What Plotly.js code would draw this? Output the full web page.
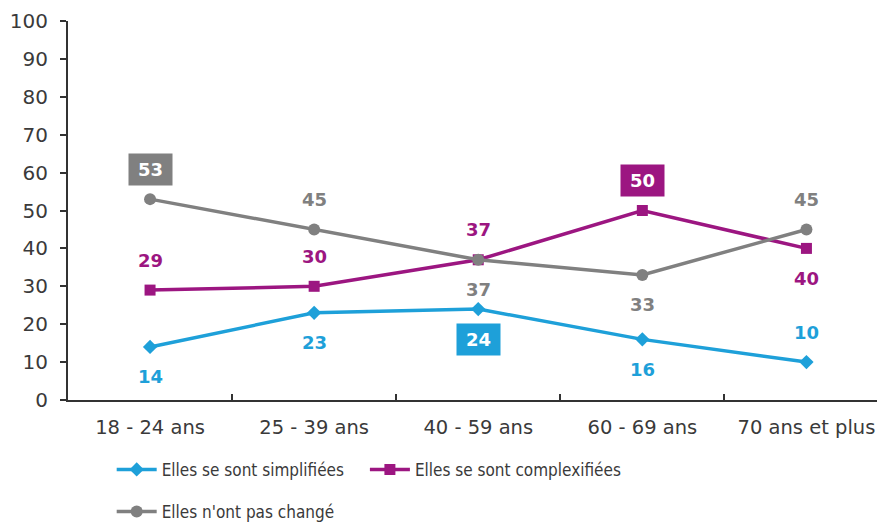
<!DOCTYPE html>
<html><head><meta charset="utf-8">
<script src="https://cdn.plot.ly/plotly-3.0.1.min.js"></script>
<style>body{margin:0;background:#fff}#chart{width:877px;height:526px}</style>
</head><body><div id="chart"></div>
<script>
const categories = ["18 - 24 ans", "25 - 39 ans", "40 - 59 ans", "60 - 69 ans", "70 ans et plus"];
const simplifiees = [14, 23, 24, 16, 10];
const complexifiees = [29, 30, 37, 50, 40];
const inchangees = [53, 45, 37, 33, 45];
const seriesNames = ["Elles se sont simplifiées", "Elles se sont complexifiées", "Elles n'ont pas changé"];

const colBlue = "#1ea0d9", colMag = "#9c1681", colGray = "#808080";
const labelFont = "'DejaVu Sans', sans-serif";
const legendFontFam = "'DejaVu Sans Condensed', 'Liberation Sans Narrow', sans-serif";

const traces = [
  {x: categories, y: simplifiees, name: seriesNames[0], type: "scatter", mode: "lines+markers",
   line: {color: colBlue, width: 3.5}, marker: {symbol: "diamond", size: 11, color: colBlue}, legend: "legend"},
  {x: categories, y: complexifiees, name: seriesNames[1], type: "scatter", mode: "lines+markers",
   line: {color: colMag, width: 3.5}, marker: {symbol: "square", size: 11, color: colMag}, legend: "legend2"},
  {x: categories, y: inchangees, name: seriesNames[2], type: "scatter", mode: "lines+markers",
   line: {color: colGray, width: 3.5}, marker: {symbol: "circle", size: 12, color: colGray}, legend: "legend3"}
];

// label placement: +1 above, -1 below; boxed highlights
const blueSide = [-1, -1, -1, -1, 1], blueBox = [false, false, true, false, false];
const magSide = [1, 1, 1, 1, -1], magBox = [false, false, false, true, false];
const graySide = [1, 1, -1, -1, 1], grayBox = [true, false, false, false, false];

const annotations = [];
function addLabels(vals, side, box, color) {
  vals.forEach((v, i) => {
    const a = {
      x: categories[i], y: v, xref: "x", yref: "y", text: "<b>" + v + "</b>", showarrow: false,
      yshift: side[i] * 30, yanchor: "middle",
      font: {family: labelFont, size: 18, color: box[i] ? "#ffffff" : color}
    };
    if (box[i]) { a.bgcolor = color; a.width = 35; a.height = 23; a.borderpad = 4; }
    annotations.push(a);
  });
}
addLabels(simplifiees, blueSide, blueBox, colBlue);
addLabels(complexifiees, magSide, magBox, colMag);
addLabels(inchangees, graySide, grayBox, colGray);

const legendCommon = {orientation: "h", xanchor: "left", yanchor: "top", itemwidth: 40,
  font: {family: legendFontFam, size: 17, color: "#3a3a3a"}, bgcolor: "rgba(0,0,0,0)"};

const layout = {
  width: 877, height: 526,
  margin: {l: 68, r: 0, t: 21, b: 126, autoexpand: false},
  paper_bgcolor: "#ffffff", plot_bgcolor: "#ffffff",
  font: {family: labelFont, color: "#333333", size: 17},
  xaxis: {type: "category", range: [-0.5, 4.43], showgrid: false, zeroline: false,
          showline: true, linecolor: "#333333", linewidth: 2,
          ticks: "inside", ticklen: 6, tickwidth: 2, tickcolor: "#333333", tickson: "boundaries",
          tickfont: {family: labelFont, size: 19.5, color: "#3a3a3a"}, ticklabelstandoff: 9},
  yaxis: {range: [0, 100], dtick: 10, showgrid: false, zeroline: false,
          showline: true, linecolor: "#333333", linewidth: 2,
          ticks: "outside", ticklen: 6, tickwidth: 2, tickcolor: "#333333",
          tickfont: {family: labelFont, size: 20, color: "#3a3a3a"}, ticklabelstandoff: 8},
  showlegend: true,
  legend: Object.assign({}, legendCommon, {x: 0.054, y: -0.137}),
  legend2: Object.assign({}, legendCommon, {x: 0.367, y: -0.137}),
  legend3: Object.assign({}, legendCommon, {x: 0.054, y: -0.248}),
  annotations: annotations
};

Plotly.newPlot("chart", traces, layout, {displayModeBar: false, staticPlot: true});
</script></body></html>
